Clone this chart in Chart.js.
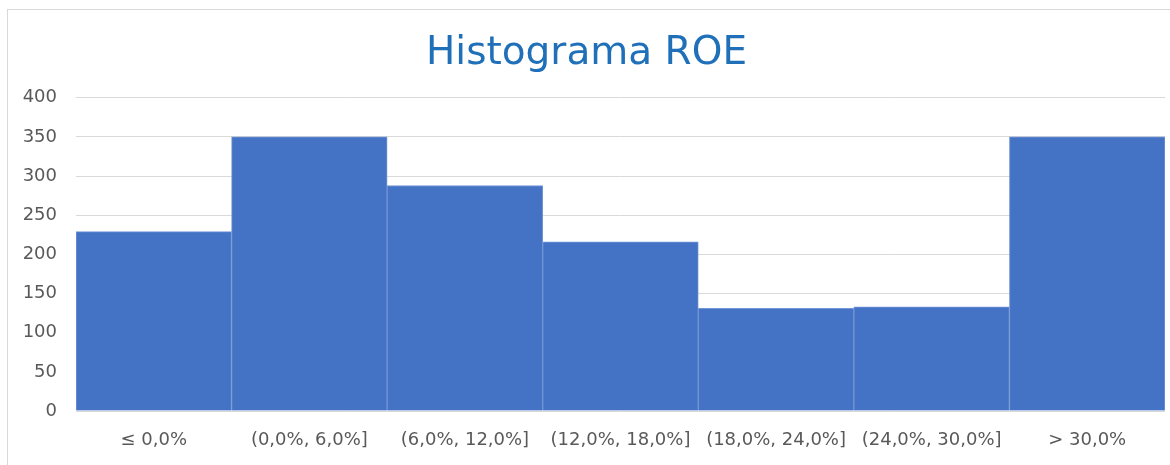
<!DOCTYPE html>
<html lang="es">
  <head>
    <meta charset="UTF-8">
    <title>Histograma ROE</title>
    <script src="https://cdn.jsdelivr.net/npm/chart.js@4.4.1/dist/chart.umd.min.js"></script>
    <style>
      html, body { margin: 0; padding: 0; background: #fff; overflow: hidden; }
      #box {
        position: absolute; left: 7px; top: 9px;
        width: 1180px; height: 470px;
        border: 1px solid #d9d9d9;
      }
      #wrap { position: relative; width: 1180px; height: 455px; }
    </style>
  </head>
  <body>
    <div id="box">
      <div id="wrap"><canvas id="myChart"></canvas></div>
    </div>
    <script>
      // bins and counts
      const bins = ["\u2264 0,0%", "(0,0%, 6,0%]", "(6,0%, 12,0%]", "(12,0%, 18,0%]",
                    "(18,0%, 24,0%]", "(24,0%, 30,0%]", "> 30,0%"];
      const counts = [229, 350, 288, 216, 131, 133, 350];
      const yTicks = [0, 50, 100, 150, 200, 250, 300, 350, 400];

      const font = "'DejaVu Sans', sans-serif";
      const ctx = document.getElementById('myChart').getContext('2d');
      const myChart = new Chart(ctx, {
        type: 'bar',
        data: {
          labels: bins,
          datasets: [{
            label: 'ROE',
            data: counts,
            backgroundColor: '#4472c4',
            borderColor: '#7396d6',
            borderWidth: 1,
            barPercentage: 1,
            categoryPercentage: 1
          }]
        },
        options: {
          responsive: true,
          maintainAspectRatio: false,
          animation: false,
          layout: { padding: { left: 0, right: 23, top: 0, bottom: 0 } },
          plugins: {
            legend: { display: false },
            tooltip: { enabled: false },
            title: {
              display: true,
              text: 'Histograma ROE',
              color: '#1f70b8',
              font: { family: font, size: 39, weight: 'normal' },
              padding: { top: 20, bottom: 21 }
            }
          },
          scales: {
            x: {
              grid: { display: false, drawTicks: false },
              border: { display: false },
              ticks: {
                color: '#595959', padding: 19, maxRotation: 0, autoSkip: false,
                font: { family: font, size: 18 }
              },
              afterFit: s => { s.height = 54; }
            },
            y: {
              min: 0, max: 400,
              afterBuildTicks: s => { s.ticks = yTicks.map(v => ({ value: v })); },
              grid: { color: '#d9d9d9', lineWidth: 1, drawTicks: false },
              border: { display: false },
              ticks: {
                color: '#595959', padding: 19,
                font: { family: font, size: 18 }
              },
              afterFit: s => { s.width = 68; }
            }
          }
        }
      });
    </script>
  </body>
</html>
